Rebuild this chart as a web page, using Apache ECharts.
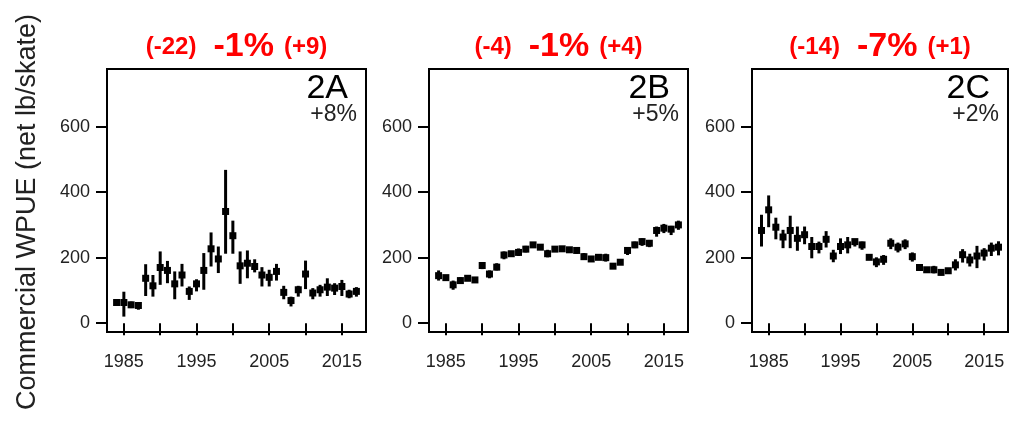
<!DOCTYPE html>
<html><head><meta charset="utf-8">
<script src="https://cdn.jsdelivr.net/npm/echarts@6/dist/echarts.min.js"></script>
<style>html,body{margin:0;padding:0;background:#fff}#c{width:1009px;height:421px}</style>
</head><body><div id="c"></div>
<script>
const years = [1984,1985,1986,1987,1988,1989,1990,1991,1992,1993,1994,1995,1996,1997,1998,1999,2000,2001,2002,2003,2004,2005,2006,2007,2008,2009,2010,2011,2012,2013,2014,2015,2016,2017];
const xTicks = [1985,1990,1995,2000,2005,2010,2015];
const xLabels = [1985,1995,2005,2015];
const yTicks = [0,200,400,600];

const meanA = [63,63,56,54,137,114,170,161,120,147,97,120,161,227,196,341,267,175,183,173,147,140,158,94,69,102,150,92,102,110,107,112,89,97];
const loA   = [53,20,46,41,83,81,117,122,73,112,71,97,102,173,153,212,212,120,137,155,112,112,130,73,51,81,104,73,81,83,86,83,76,81];
const hiA   = [71,96,66,63,180,147,219,190,158,181,112,134,214,277,234,468,313,219,222,195,171,163,181,114,81,114,191,107,117,137,122,132,102,110];

const meanB = [145,139,117,130,137,132,176,150,171,208,212,216,226,239,232,212,226,227,224,222,203,196,201,200,174,186,222,239,249,244,283,290,287,300];
const loB   = [130,130,102,120,129,125,165,137,161,195,205,205,216,232,225,201,219,220,217,212,193,189,194,188,167,179,208,229,236,232,264,275,269,285];
const hiB   = [161,147,130,140,145,139,185,161,183,219,219,228,236,246,239,224,233,234,231,232,214,203,208,212,181,193,232,249,259,254,295,303,297,313];

const meanC = [283,346,293,263,283,259,270,234,234,256,205,234,239,249,239,201,187,195,244,232,242,203,170,163,163,155,160,178,209,193,205,214,229,232];
const loC   = [234,293,256,229,229,221,241,198,213,231,186,211,213,234,224,193,171,178,226,216,226,188,163,156,152,146,153,161,185,173,168,191,205,207];
const hiC   = [331,390,322,285,328,295,295,263,249,281,224,259,263,256,249,208,201,208,259,246,256,216,178,171,175,164,168,195,226,212,236,229,246,250];

const panelNames = ['2A','2B','2C'];
const panelPct = ['+8%','+5%','+2%'];
const titleLeft = ['(-22)','(-4)','(-14)'];
const titleMid = ['-1%','-1%','-7%'];
const titleRight = ['(+9)','(+4)','(+1)'];

const panels = [[meanA,loA,hiA],[meanB,loB,hiB],[meanC,loC,hiC]];
const gridLeft = [107, 429, 752];
const gridW = [259, 259, 256];
const gridTop = 69, gridH = 263;
const FONT = '"Liberation Sans", Arial, sans-serif';

const grids = [], xAxes = [], yAxes = [], series = [], graphics = [];
panels.forEach((p, i) => {
  grids.push({left: gridLeft[i], top: gridTop, width: gridW[i], height: gridH, show: true,
    borderColor: '#000', borderWidth: 2, backgroundColor: 'transparent', containLabel: false});
  xAxes.push({type: 'value', gridIndex: i, min: 1982.68, max: 2018.32,
    axisLine: {show: false}, splitLine: {show: false},
    axisTick: {show: true, length: 12, lineStyle: {color: '#000', width: 2}, customValues: xTicks},
    axisLabel: {show: true, margin: 21, fontSize: 18, color: '#222', fontFamily: FONT,
      customValues: xLabels, formatter: v => String(v)}});
  yAxes.push({type: 'value', gridIndex: i, min: -27, max: 776,
    axisLine: {show: false}, splitLine: {show: false},
    axisTick: {show: true, length: 11, lineStyle: {color: '#000', width: 2}, customValues: yTicks},
    axisLabel: {show: true, margin: 17, fontSize: 18, color: '#222', fontFamily: FONT,
      customValues: yTicks, formatter: v => String(v)}});
  const data = years.map((y, k) => [y, p[0][k], p[1][k], p[2][k]]);
  series.push({type: 'custom', xAxisIndex: i, yAxisIndex: i, data: data, silent: true,
    renderItem: function (params, api) {
      const x = api.value(0);
      const a = api.coord([x, api.value(2)]);
      const b = api.coord([x, api.value(3)]);
      const m = api.coord([x, api.value(1)]);
      return {type: 'group', children: [
        {type: 'line', shape: {x1: a[0], y1: a[1], x2: b[0], y2: b[1]}, style: {stroke: '#000', lineWidth: 3}},
        {type: 'rect', shape: {x: m[0] - 3.5, y: m[1] - 3.5, width: 7, height: 7}, style: {fill: '#000'}}
      ]};
    }});
  const cx = gridLeft[i] + gridW[i] / 2;
  const right = gridLeft[i] + gridW[i];
  graphics.push({type: 'text', x: cx, y: 47, style: {
    text: '{a|' + titleLeft[i] + '}{b|' + titleMid[i] + '}{a|' + titleRight[i] + '}',
    align: 'center', verticalAlign: 'middle',
    rich: {a: {fontSize: 24, fontWeight: 'bold', fill: '#f00', fontFamily: FONT},
           b: {fontSize: 34, fontWeight: 'bold', fill: '#f00', fontFamily: FONT, padding: [0, 10, 0, 17]}}}});
  graphics.push({type: 'text', x: right - 18, y: 89, style: {text: panelNames[i], fontSize: 34,
    fill: '#000', fontFamily: FONT, align: 'right', verticalAlign: 'middle'}});
  graphics.push({type: 'text', x: right - 9, y: 115, style: {text: panelPct[i], fontSize: 23,
    fill: '#222', fontFamily: FONT, align: 'right', verticalAlign: 'middle'}});
});
graphics.push({type: 'text', x: 28, y: 212, rotation: Math.PI / 2, style: {
  text: 'Commercial WPUE (net lb/skate)', fontSize: 27, fill: '#222', fontFamily: FONT,
  align: 'center', verticalAlign: 'middle'}});

const chart = echarts.init(document.getElementById('c'), null, {renderer: 'canvas'});
chart.setOption({animation: false, grid: grids, xAxis: xAxes, yAxis: yAxes, series: series, graphic: graphics});
</script></body></html>
